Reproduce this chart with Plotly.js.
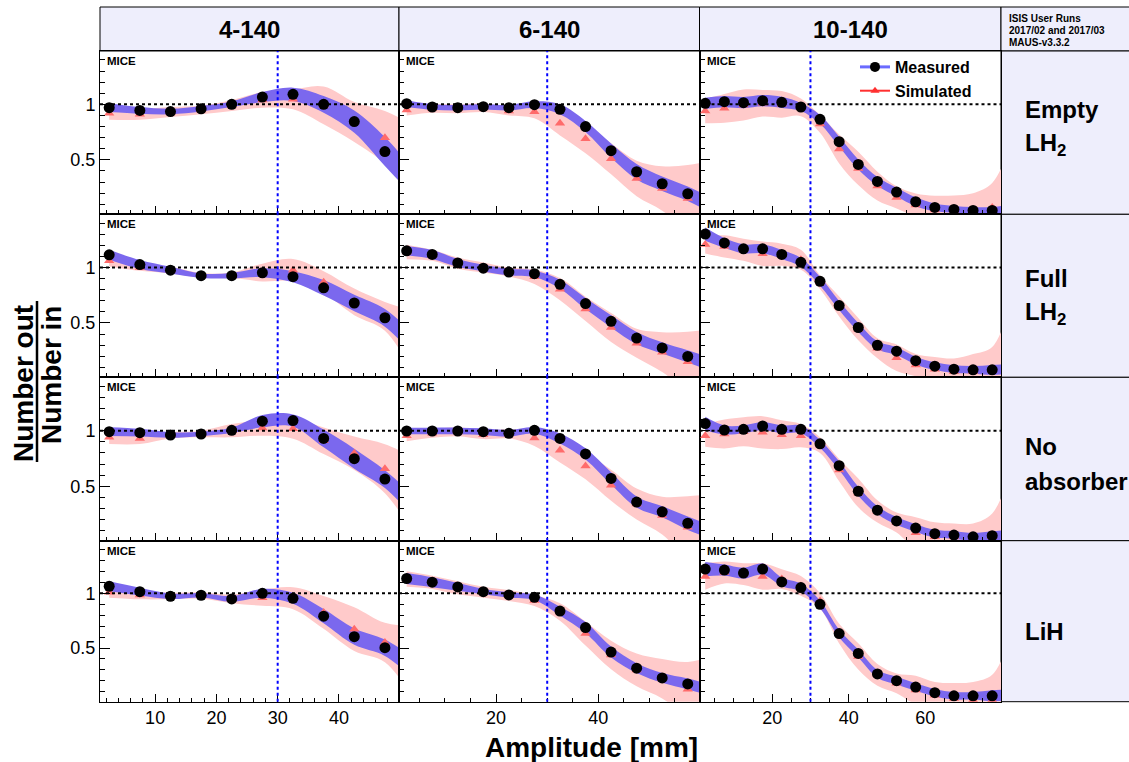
<!DOCTYPE html>
<html><head><meta charset="utf-8">
<script src="https://cdn.plot.ly/plotly-3.0.1.min.js"></script>
<style>html,body{margin:0;padding:0;background:#fff;}#chart{width:1129px;height:762px;}</style>
</head><body><div id="chart"></div>
<script>
// ---------------- DATA ----------------
const emittances = ['4-140', '6-140', '10-140'];
const absorberLines = [['Empty', 'LH<sub>2</sub>'], ['Full', 'LH<sub>2</sub>'], ['No', 'absorber'], ['LiH']];
const infoLines = ['ISIS User Runs', '2017/02 and 2017/03', 'MAUS-v3.3.2'];
const AMP_CUT = 30;   // mm, vertical reference
const UNITY = 1;      // ratio reference
// bin centres (last bin lies just beyond the drawn axis range)
const amp4  = [2.5,7.5,12.5,17.5,22.5,27.5,32.5,37.5,42.5,47.5,52.5];
const amp6  = [2.5,7.5,12.5,17.5,22.5,27.5,32.5,37.5,42.5,47.5,52.5,57.5,62.5];
const amp10 = [2.5,7.5,12.5,17.5,22.5,27.5,32.5,37.5,42.5,47.5,52.5,57.5,62.5,67.5,72.5,77.5,82.5];

// Empty LH2
const measEmpty4   = [0.97,0.945,0.935,0.96,1.0,1.065,1.09,1.0,0.845,0.575,0.27];
const measErrEmpty4= [0.04,0.03,0.025,0.025,0.025,0.045,0.06,0.075,0.1,0.13,0.12];
const simEmpty4    = [0.92,0.91,0.93,0.95,0.99,1.04,1.045,0.99,0.84,0.70,0.45];
const simErrEmpty4 = [0.06,0.05,0.045,0.04,0.05,0.07,0.09,0.17,0.18,0.24,0.35];
const measEmpty6   = [1.006,0.976,0.97,0.979,0.97,0.997,0.955,0.80,0.583,0.393,0.285,0.195,0.08];
const measErrEmpty6= [0.03,0.025,0.025,0.025,0.025,0.03,0.045,0.05,0.065,0.07,0.065,0.065,0.07];
const simEmpty6    = [0.95,0.964,0.96,0.97,0.94,0.934,0.83,0.69,0.51,0.333,0.243,0.153,0.1];
const simErrEmpty6 = [0.05,0.04,0.04,0.04,0.04,0.06,0.11,0.13,0.14,0.16,0.2,0.3,0.4];
const measEmpty10   = [1.009,1.024,1.015,1.033,1.018,0.976,0.865,0.664,0.459,0.306,0.21,0.123,0.072,0.054,0.045,0.045,0.06];
const measErrEmpty10= [0.05,0.05,0.05,0.05,0.05,0.035,0.04,0.045,0.045,0.04,0.04,0.04,0.035,0.03,0.03,0.03,0.04];
const simEmpty10    = [0.94,0.964,0.994,1.01,1.0,0.973,0.823,0.598,0.423,0.264,0.162,0.093,0.048,0.04,0.035,0.072,0.15];
const simErrEmpty10 = [0.11,0.13,0.14,0.12,0.12,0.08,0.08,0.13,0.15,0.13,0.1,0.105,0.13,0.14,0.165,0.22,0.5];

// Full LH2
const measFull4   = [1.115,1.027,0.976,0.926,0.926,0.953,0.917,0.817,0.68,0.547,0.28];
const measErrFull4= [0.045,0.04,0.03,0.02,0.025,0.04,0.05,0.07,0.075,0.08,0.1];
const simFull4    = [1.06,1.0,0.976,0.93,0.93,0.955,0.976,0.867,0.69,0.56,0.3];
const simErrFull4 = [0.05,0.03,0.03,0.02,0.025,0.08,0.1,0.1,0.12,0.13,0.3];
const measFull6   = [1.151,1.118,1.041,0.994,0.959,0.944,0.849,0.675,0.515,0.364,0.275,0.198,0.12];
const measErrFull6= [0.04,0.04,0.035,0.03,0.03,0.03,0.04,0.05,0.055,0.055,0.05,0.055,0.06];
const simFull6    = [1.14,1.11,1.04,1.0,0.96,0.917,0.805,0.627,0.459,0.317,0.237,0.151,0.1];
const simErrFull6 = [0.065,0.05,0.05,0.045,0.04,0.065,0.1,0.11,0.13,0.13,0.18,0.27,0.35];
const measFull10   = [1.302,1.222,1.169,1.169,1.118,1.047,0.876,0.657,0.459,0.299,0.246,0.16,0.11,0.083,0.077,0.077,0.085];
const measErrFull10= [0.06,0.045,0.04,0.04,0.04,0.04,0.04,0.04,0.04,0.035,0.035,0.035,0.035,0.035,0.035,0.045,0.045];
const simFull10    = [1.207,1.19,1.16,1.124,1.115,1.07,0.867,0.648,0.444,0.272,0.186,0.12,0.083,0.06,0.06,0.074,0.15];
const simErrFull10 = [0.08,0.1,0.1,0.11,0.1,0.09,0.06,0.09,0.1,0.09,0.12,0.1,0.11,0.12,0.16,0.21,0.55];

// No absorber
const measNone4   = [0.991,0.982,0.961,0.97,1.003,1.085,1.091,0.93,0.748,0.564,0.3];
const measErrNone4= [0.04,0.035,0.025,0.02,0.025,0.055,0.055,0.08,0.09,0.08,0.1];
const simNone4    = [0.94,0.93,0.96,0.97,1.0,1.024,1.018,0.909,0.797,0.658,0.4];
const simErrNone4 = [0.06,0.05,0.03,0.03,0.06,0.07,0.09,0.12,0.15,0.22,0.35];
const measNone6   = [0.997,0.997,0.997,0.991,0.976,1.003,0.93,0.791,0.57,0.358,0.27,0.167,0.08];
const measErrNone6= [0.03,0.03,0.03,0.03,0.03,0.03,0.045,0.05,0.055,0.05,0.05,0.06,0.06];
const simNone6    = [0.955,0.976,0.99,0.964,0.97,0.933,0.824,0.682,0.509,0.34,0.236,0.13,0.1];
const simErrNone6 = [0.05,0.04,0.04,0.04,0.04,0.07,0.11,0.12,0.14,0.14,0.17,0.28,0.33];
const measNone10   = [1.064,1.006,1.012,1.042,1.012,1.012,0.882,0.685,0.455,0.285,0.188,0.124,0.073,0.061,0.045,0.055,0.06];
const measErrNone10= [0.06,0.04,0.035,0.035,0.035,0.035,0.035,0.04,0.04,0.035,0.035,0.035,0.035,0.035,0.035,0.04,0.05];
const simNone10    = [0.955,0.97,0.99,0.985,0.964,0.955,0.87,0.645,0.44,0.273,0.173,0.082,0.045,0.045,0.045,0.045,0.15];
const simErrNone10 = [0.1,0.13,0.13,0.145,0.13,0.105,0.07,0.1,0.13,0.1,0.09,0.14,0.13,0.12,0.12,0.21,0.5];

// LiH
const measLiH4   = [1.064,1.015,0.972,0.982,0.948,1.0,0.954,0.791,0.604,0.503,0.3];
const measErrLiH4= [0.045,0.035,0.025,0.02,0.025,0.04,0.05,0.065,0.075,0.075,0.1];
const simLiH4    = [1.01,0.985,0.975,0.98,0.95,0.96,0.955,0.825,0.672,0.55,0.35];
const simErrLiH4 = [0.05,0.04,0.03,0.03,0.04,0.075,0.1,0.15,0.2,0.18,0.35];
const measLiH6   = [1.135,1.101,1.058,1.015,0.985,0.963,0.837,0.687,0.463,0.316,0.227,0.172,0.11];
const measErrLiH6= [0.05,0.045,0.035,0.025,0.025,0.025,0.04,0.05,0.05,0.045,0.045,0.05,0.05];
const simLiH6    = [1.13,1.1,1.05,1.01,0.98,0.933,0.83,0.632,0.436,0.3,0.22,0.123,0.1];
const simErrLiH6 = [0.07,0.06,0.06,0.05,0.05,0.05,0.08,0.11,0.13,0.15,0.18,0.25,0.33];
const measLiH10   = [1.221,1.212,1.184,1.221,1.104,1.052,0.899,0.632,0.451,0.264,0.202,0.144,0.092,0.064,0.064,0.064,0.075];
const measErrLiH10= [0.065,0.05,0.05,0.05,0.04,0.035,0.035,0.035,0.035,0.035,0.035,0.035,0.035,0.035,0.035,0.05,0.05];
const simLiH10    = [1.153,1.19,1.175,1.153,1.13,1.067,0.93,0.632,0.423,0.255,0.178,0.117,0.07,0.04,0.025,0.025,0.12];
const simErrLiH10 = [0.12,0.1,0.1,0.12,0.09,0.09,0.07,0.09,0.12,0.1,0.09,0.13,0.12,0.14,0.165,0.23,0.5];

// ---------------- LAYOUT GEOMETRY ----------------
const W = 1129, H = 762;
const FONT = 'Liberation Sans, Arial, Helvetica, sans-serif';
const PINK = '#ffcaca', BLUE = '#7b68ee', TRI = '#ff6b6b', LAV = '#eeeefc';
const colPx = [[100,399],[399,699.5],[699.5,1001]];
const rowPx = [[51,214.3],[214.3,377.3],[377.3,540.7],[540.7,701.7]];
const xRanges = [[1,49.8],[1,59.8],[1,79.8]];
const xDtick = [10,20,20], xMinor = [2,5,5];
const yRange = [0.01,1.48];
const px = p => p / W, py = p => 1 - p / H;

const panels = [
  [[amp4,measEmpty4,measErrEmpty4,simEmpty4,simErrEmpty4],[amp6,measEmpty6,measErrEmpty6,simEmpty6,simErrEmpty6],[amp10,measEmpty10,measErrEmpty10,simEmpty10,simErrEmpty10]],
  [[amp4,measFull4,measErrFull4,simFull4,simErrFull4],[amp6,measFull6,measErrFull6,simFull6,simErrFull6],[amp10,measFull10,measErrFull10,simFull10,simErrFull10]],
  [[amp4,measNone4,measErrNone4,simNone4,simErrNone4],[amp6,measNone6,measErrNone6,simNone6,simErrNone6],[amp10,measNone10,measErrNone10,simNone10,simErrNone10]],
  [[amp4,measLiH4,measErrLiH4,simLiH4,simErrLiH4],[amp6,measLiH6,measErrLiH6,simLiH6,simErrLiH6],[amp10,measLiH10,measErrLiH10,simLiH10,simErrLiH10]]
];

const traces = [], layout = {
  width: W, height: H, margin: {l:0,r:0,t:0,b:0},
  paper_bgcolor: 'white', plot_bgcolor: 'white',
  font: {family: FONT, color: 'black'},
  showlegend: true,
  legend: {x: px(855), y: py(50), xanchor: 'left', yanchor: 'top', bgcolor: 'rgba(0,0,0,0)', traceorder: 'normal',
           font: {family: FONT, size: 16, color: 'black'}, tracegroupgap: 0},
  shapes: [], annotations: []
};

const lo = (v, e) => v.map((y, i) => y - e[i]);
const hi = (v, e) => v.map((y, i) => y + e[i]);

for (let r = 0; r < 4; r++) {
  for (let c = 0; c < 3; c++) {
    const n = r * 3 + c + 1;
    const xs = n === 1 ? '' : String(n);
    const xa = 'x' + xs, ya = 'y' + xs;
    const [x, m, me, s, se] = panels[r][c];
    const common = {xaxis: xa, yaxis: ya, showlegend: false, hoverinfo: 'skip'};
    traces.push(Object.assign({x, y: lo(s, se), mode: 'lines', line: {width: 0, shape: 'spline', color: PINK}}, common));
    traces.push(Object.assign({x, y: hi(s, se), mode: 'lines', fill: 'tonexty', fillcolor: PINK, line: {width: 0, shape: 'spline', color: PINK}}, common));
    traces.push(Object.assign({x, y: lo(m, me), mode: 'lines', line: {width: 0, shape: 'spline', color: BLUE}}, common));
    traces.push(Object.assign({x, y: hi(m, me), mode: 'lines', fill: 'tonexty', fillcolor: BLUE, line: {width: 0, shape: 'spline', color: BLUE}}, common));
    traces.push(Object.assign({x, y: s, mode: 'markers', marker: {symbol: 'triangle-up', size: 9, color: TRI}}, common));
    traces.push(Object.assign({x, y: m, mode: 'markers', marker: {symbol: 'circle', size: 11, color: 'black'}}, common));

    layout['xaxis' + xs] = {
      domain: [px(colPx[c][0]), px(colPx[c][1])], range: xRanges[c], anchor: ya,
      showline: true, mirror: true, linecolor: 'black', linewidth: 1,
      ticks: 'inside', ticklen: 8, tickwidth: 1, tickcolor: 'black',
      tick0: 0, dtick: xDtick[c], showgrid: false, zeroline: false,
      showticklabels: r === 3, tickfont: {family: FONT, size: 18, color: 'black'},
      minor: {ticks: 'inside', ticklen: 4, tickcolor: 'black', tick0: 0, dtick: xMinor[c], showgrid: false}
    };
    layout['yaxis' + xs] = {
      domain: [py(rowPx[r][1]), py(rowPx[r][0])], range: yRange, anchor: xa,
      showline: true, mirror: true, linecolor: 'black', linewidth: 1,
      ticks: 'inside', ticklen: 10, tickwidth: 1, tickcolor: 'black',
      tick0: 0, dtick: 0.5, showgrid: false, zeroline: false,
      showticklabels: c === 0, tickfont: {family: FONT, size: 18, color: 'black'},
      minor: {ticks: 'inside', ticklen: 5, tickcolor: 'black', tick0: 0, dtick: 0.1, showgrid: false}
    };
    layout.shapes.push({type: 'line', xref: xa + ' domain', yref: ya, x0: 0, x1: 1, y0: UNITY, y1: UNITY,
      line: {color: 'black', width: 2, dash: 'dot'}, layer: 'above'});
    layout.shapes.push({type: 'line', xref: xa, yref: ya + ' domain', x0: AMP_CUT, x1: AMP_CUT, y0: 0, y1: 1,
      line: {color: '#0000ff', width: 2, dash: 'dot'}, layer: 'above'});
    layout.annotations.push({text: '<b>MICE</b>', xref: 'paper', yref: 'paper', x: px(colPx[c][0] + 5), y: py(rowPx[r][0] + 10),
      xanchor: 'left', yanchor: 'middle', showarrow: false, font: {family: FONT, size: 11.5, color: 'black'}});
  }
}

// legend-only traces
traces.push({x: [null], y: [null], xaxis: 'x3', yaxis: 'y3', mode: 'lines+markers', name: '<b>Measured</b>',
  line: {color: '#6b6bff', width: 3}, marker: {color: 'black', size: 10, symbol: 'circle'}});
traces.push({x: [null], y: [null], xaxis: 'x3', yaxis: 'y3', mode: 'lines+markers', name: '<b>Simulated</b>',
  line: {color: '#ff3030', width: 2}, marker: {color: '#ff3030', size: 8, symbol: 'triangle-up'}});

// header cells
const hdrTop = 7, hdrBot = 51;
for (let c = 0; c < 3; c++) {
  layout.shapes.push({type: 'rect', xref: 'paper', yref: 'paper', x0: px(colPx[c][0]), x1: px(colPx[c][1]), y0: py(hdrBot), y1: py(hdrTop),
    fillcolor: LAV, line: {color: 'black', width: 1}, layer: 'below'});
  layout.annotations.push({text: '<b>' + emittances[c] + '</b>', xref: 'paper', yref: 'paper',
    x: px((colPx[c][0] + colPx[c][1]) / 2), y: py(29), xanchor: 'center', yanchor: 'middle', showarrow: false,
    font: {family: FONT, size: 24, color: 'black'}});
}
layout.shapes.push({type: 'rect', xref: 'paper', yref: 'paper', x0: px(1001), x1: px(1131), y0: py(hdrBot), y1: py(hdrTop),
  fillcolor: LAV, line: {color: 'black', width: 1}, layer: 'below'});
const infoY = [19, 30.7, 42.3];
infoLines.forEach((t, i) => layout.annotations.push({text: '<b>' + t + '</b>', xref: 'paper', yref: 'paper',
  x: px(1007), y: py(infoY[i]), xanchor: 'left', yanchor: 'middle', showarrow: false, font: {family: FONT, size: 10, color: 'black'}}));

// right-hand absorber cells
const labelY = [[109, 144], [278.5, 313], [446, 481], [631.5]];
for (let r = 0; r < 4; r++) {
  layout.shapes.push({type: 'rect', xref: 'paper', yref: 'paper', x0: px(1001), x1: px(1131), y0: py(rowPx[r][1]), y1: py(rowPx[r][0]),
    fillcolor: LAV, line: {color: 'black', width: 1}, layer: 'below'});
  absorberLines[r].forEach((t, i) => layout.annotations.push({text: '<b>' + t + '</b>', xref: 'paper', yref: 'paper',
    x: px(1023), y: py(labelY[r][i]), xanchor: 'left', yanchor: 'middle', showarrow: false,
    font: {family: FONT, size: 24, color: 'black'}}));
}

// axis titles
layout.annotations.push({text: '<b>Amplitude [mm]</b>', xref: 'paper', yref: 'paper', x: px(591), y: py(747),
  xanchor: 'center', yanchor: 'middle', showarrow: false, font: {family: FONT, size: 28, color: 'black'}});
layout.annotations.push({text: '<b>Number out</b>', xref: 'paper', yref: 'paper', x: px(23.5), y: py(303), textangle: -90,
  xanchor: 'center', yanchor: 'top', showarrow: false, font: {family: FONT, size: 28, color: 'black'}});
layout.annotations.push({text: '<b>Number in</b>', xref: 'paper', yref: 'paper', x: px(51), y: py(304), textangle: -90,
  xanchor: 'center', yanchor: 'top', showarrow: false, font: {family: FONT, size: 28, color: 'black'}});
layout.shapes.push({type: 'line', xref: 'paper', yref: 'paper', x0: px(37), x1: px(37), y0: py(301), y1: py(462),
  line: {color: 'black', width: 2.5}});

Plotly.newPlot('chart', traces, layout, {staticPlot: true});
</script></body></html>
